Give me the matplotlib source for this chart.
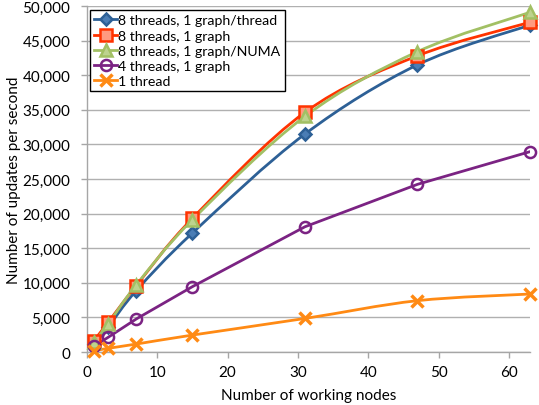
import numpy as np
import matplotlib
matplotlib.use('Agg')
import matplotlib.pyplot as plt
from matplotlib.path import Path
from matplotlib.patches import PathPatch
from matplotlib.lines import Line2D

plt.rcParams['font.family'] = ['Lato', 'DejaVu Sans']

# 数据
nodes = [1, 3, 7, 15, 31, 47, 63]
t8_per_thread = [1100, 3600, 8860, 17200, 31500, 41500, 47250]
t8_one_graph = [1640, 4290, 9580, 19320, 34640, 42800, 47650]
t8_per_numa = [1400, 4050, 9680, 19120, 34060, 43400, 49080]
t4_one_graph = [830, 2120, 4770, 9450, 18100, 24230, 28950]
t1 = [190, 530, 1150, 2450, 4850, 7420, 8380]

labels = ['8 threads, 1 graph/thread', '8 threads, 1 graph', '8 threads, 1 graph/NUMA',
          '4 threads, 1 graph', '1 thread']
series = [t8_per_thread, t8_one_graph, t8_per_numa, t4_one_graph, t1]
colors = ['#2D6096', '#FF3300', '#A2C064', '#7B2383', '#FF8A14']
markers = ['D', 's', '^', 'o', 'x']
faces = ['#4A7DB5', '#FF9A80', '#BDD38E', 'none', '#FF8A14']
msizes = [6, 9, 9, 8, 8]
smooth = [True, True, True, False, True]


def smooth_path(x, y):
    # Excel那种平滑线：Catmull-Rom 转成贝塞尔
    x = np.asarray(x, float)
    y = np.asarray(y, float)
    verts = [(x[0], y[0])]
    codes = [Path.MOVETO]
    n = len(x)
    for i in range(n - 1):
        x0, y0 = (x[i - 1], y[i - 1]) if i > 0 else (x[i], y[i])
        x3, y3 = (x[i + 2], y[i + 2]) if i + 2 < n else (x[i + 1], y[i + 1])
        c1 = (x[i] + (x[i + 1] - x0) / 6, y[i] + (y[i + 1] - y0) / 6)
        c2 = (x[i + 1] - (x3 - x[i]) / 6, y[i + 1] - (y3 - y[i]) / 6)
        verts += [c1, c2, (x[i + 1], y[i + 1])]
        codes += [Path.CURVE4] * 3
    return Path(verts, codes)


fig = plt.figure(figsize=(5.39, 4.06), dpi=100)
ax = fig.add_axes([0.1614, 0.1305, 0.8219, 0.8523])

handles = []
for s, c, m, fc, ms, sm, lab in zip(series, colors, markers, faces, msizes, smooth, labels):
    if sm:
        ax.add_patch(PathPatch(smooth_path(nodes, s), fill=False, edgecolor=c, lw=2.0, zorder=3))
    else:
        ax.plot(nodes, s, color=c, lw=2.0, zorder=3)
    mew = 2.5 if m == 'x' else 1.8
    ax.plot(nodes, s, linestyle='none', marker=m, markersize=ms, markerfacecolor=fc,
            markeredgecolor=c, markeredgewidth=mew, zorder=4, clip_on=False)
    handles.append(Line2D([], [], color=c, lw=2.0, marker=m, markersize=ms, markerfacecolor=fc,
                          markeredgecolor=c, markeredgewidth=mew, label=lab))

ax.set_xlim(0, 63)
ax.set_ylim(0, 50000)
ax.set_xticks(range(0, 61, 10))
ax.set_yticks(range(0, 50001, 5000))
ax.set_yticklabels(['{:,}'.format(v) for v in range(0, 50001, 5000)])
ax.grid(axis='y', color='#B0B0B0', lw=1.0)
ax.set_axisbelow(True)
for sp in ['top', 'right']:
    ax.spines[sp].set_visible(False)
for sp in ['left', 'bottom']:
    ax.spines[sp].set_color('#A6A6A6')
    ax.spines[sp].set_linewidth(1.0)
ax.tick_params(axis='both', colors='#A6A6A6', labelcolor='black', labelsize=11, length=4, width=1)
ax.tick_params(axis='y', pad=8)
ax.tick_params(axis='x', pad=5)

ax.set_xlabel('Number of working nodes', fontsize=11, labelpad=7)
ax.set_ylabel('Number of updates per second', fontsize=11)
ax.yaxis.set_label_coords(-0.148, 0.5)

leg = ax.legend(handles=handles, loc='upper left', bbox_to_anchor=(0.007, 0.988), fontsize=10.2,
                frameon=True, fancybox=False, borderpad=0.3, labelspacing=0.22,
                handlelength=1.6, handletextpad=0.1, borderaxespad=0)
leg.get_frame().set_edgecolor('black')
leg.get_frame().set_linewidth(1.0)
leg.get_frame().set_alpha(1)

fig.savefig('out.png', dpi=100)
